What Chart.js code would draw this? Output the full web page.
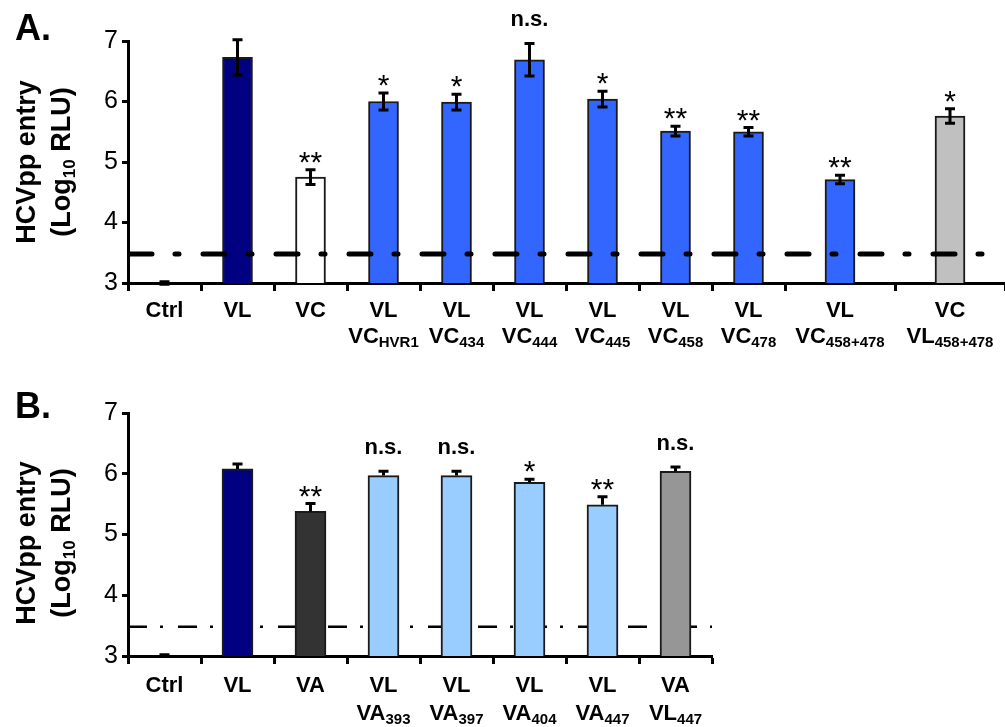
<!DOCTYPE html>
<html>
<head>
<meta charset="utf-8">
<script src="https://cdn.jsdelivr.net/npm/chart.js@4/dist/chart.umd.min.js"></script>
<style>
  body { margin: 0; background: #fff; }
  #wrap { position: relative; width: 1005px; height: 727px; }
  canvas { position: absolute; left: 0; }
  #chartA { top: 0; }
  #chartB { top: 355px; }
</style>
</head>
<body>
<div id="wrap">
  <canvas id="chartA" width="1005" height="355"></canvas>
  <canvas id="chartB" width="1005" height="372"></canvas>
</div>
<script>
// ---- data, panel A ----
const topLineA = ['Ctrl', 'VL', 'VC', 'VL', 'VL', 'VL', 'VL', 'VL', 'VL', 'VL', 'VC'];
const mainLineA = ['', '', '', 'VC', 'VC', 'VC', 'VC', 'VC', 'VC', 'VC', 'VL'];
const subLineA = ['', '', '', 'HVR1', '434', '444', '445', '458', '478', '458+478', '458+478'];
const valuesA = [3.0, 6.73, 4.75, 6.00, 5.99, 6.69, 6.04, 5.51, 5.50, 4.71, 5.76];
const errorsA = [0.02, 0.29, 0.12, 0.14, 0.13, 0.27, 0.13, 0.08, 0.07, 0.07, 0.12];
const signifA = ['', '', '**', '*', '*', 'n.s.', '*', '**', '**', '**', '*'];

// ---- data, panel B ----
const topLineB = ['Ctrl', 'VL', 'VA', 'VL', 'VL', 'VL', 'VL', 'VA'];
const mainLineB = ['', '', '', 'VA', 'VA', 'VA', 'VA', 'VL'];
const subLineB = ['', '', '', '393', '397', '404', '447', '447'];
const valuesB = [3.0, 6.08, 5.38, 5.97, 5.97, 5.86, 5.49, 6.04];
const errorsB = [0.02, 0.08, 0.13, 0.07, 0.07, 0.05, 0.13, 0.07];
const signifB = ['', '', '**', 'n.s.', 'n.s.', '*', '**', 'n.s.'];

const yTicks = [3, 4, 5, 6, 7];
const cutoffLevel = 3.48;   // detection limit (dashed line)

const colorsA = ['#ffffff', '#000080', '#ffffff', '#3366ff', '#3366ff', '#3366ff', '#3366ff',
                 '#3366ff', '#3366ff', '#3366ff', '#c0c0c0'];
const colorsB = ['#ffffff', '#000080', '#333333', '#99ccff', '#99ccff', '#99ccff', '#99ccff', '#969696'];

const FONT = "'Liberation Sans', Arial, sans-serif";
Chart.defaults.font.family = FONT;

// text with an optional subscript, centred on x
function drawSubText(ctx, x, y, main, sub, mainSize, subSize, subDrop) {
    ctx.font = 'bold ' + mainSize + 'px ' + FONT;
    const w1 = ctx.measureText(main).width;
    ctx.font = 'bold ' + subSize + 'px ' + FONT;
    const w2 = sub ? ctx.measureText(sub).width : 0;
    const x0 = x - (w1 + w2) / 2;
    ctx.textAlign = 'left';
    ctx.font = 'bold ' + mainSize + 'px ' + FONT;
    ctx.fillText(main, x0, y);
    if (sub) {
        ctx.font = 'bold ' + subSize + 'px ' + FONT;
        ctx.fillText(sub, x0 + w1, y + subDrop);
    }
}

function makeChart(id, cfg) {
    const H = document.getElementById(id).height;
    const n = cfg.values.length;
    const split = cfg.split || n;     // categories on the first x axis
    const labels = cfg.top.map((t, i) => (t + ' ' + cfg.main[i] + cfg.sub[i]).trim());

    function barX(chart, i) {
        return i < split ? chart.getDatasetMeta(0).data[i].x
                         : chart.getDatasetMeta(1).data[i - split].x;
    }

    function drawCutoff(chart) {
        const ctx = chart.ctx;
        const yy = chart.scales.y.getPixelForValue(cutoffLevel);
        ctx.save();
        ctx.strokeStyle = '#000';
        ctx.lineWidth = cfg.dashWidth;
        ctx.lineCap = cfg.dashCap;
        ctx.setLineDash(cfg.dash);
        ctx.lineDashOffset = cfg.dashOffset;
        ctx.beginPath();
        ctx.moveTo(chart.chartArea.left, yy);
        ctx.lineTo(chart.chartArea.right, yy);
        ctx.stroke();
        ctx.restore();
    }

    const panelPlugin = {
        id: 'panel',
        afterLayout(chart) {
            // second category axis takes the wider slots at the right end
            if (split < n) {
                const xs = chart.scales.x, x2 = chart.scales.x2;
                xs.right = cfg.splitPx;
                xs.width = xs.right - xs.left;
                xs.configure();
                x2.left = cfg.splitPx;
                x2.right = chart.chartArea.right;
                x2.width = x2.right - x2.left;
                x2.top = xs.top;
                x2.bottom = xs.bottom;
                x2.height = xs.height;
                x2.configure();
            }
        },
        beforeDatasetsDraw(chart) {
            if (!cfg.cutoffOnTop) drawCutoff(chart);
        },
        afterDatasetsDraw(chart) {
            if (cfg.cutoffOnTop) drawCutoff(chart);
            const ctx = chart.ctx;
            const y = chart.scales.y;
            ctx.save();
            ctx.strokeStyle = '#000';
            ctx.fillStyle = '#000';
            ctx.lineWidth = 3;
            for (let i = 0; i < n; i++) {
                const bx = barX(chart, i);
                const v = cfg.values[i], e = cfg.errors[i];
                const yTop = y.getPixelForValue(v + e);
                const yLow = cfg.symmetric ? y.getPixelForValue(v - e) : y.getPixelForValue(v);
                ctx.beginPath();
                ctx.moveTo(bx, yLow);
                ctx.lineTo(bx, yTop);
                ctx.moveTo(bx - 5, yTop);
                ctx.lineTo(bx + 5, yTop);
                if (cfg.symmetric) {
                    ctx.moveTo(bx - 5, yLow);
                    ctx.lineTo(bx + 5, yLow);
                }
                ctx.stroke();

                const s = cfg.signif[i];
                if (!s) continue;
                ctx.textAlign = 'center';
                ctx.textBaseline = 'alphabetic';
                if (s === 'n.s.') {
                    ctx.font = 'bold 22px ' + FONT;
                    ctx.fillText(s, bx, yTop - 17);
                } else {
                    ctx.font = '30px ' + FONT;
                    ctx.fillText(s, bx, yTop + 2);
                }
            }
            ctx.restore();
        },
        afterDraw(chart) {
            const ctx = chart.ctx;
            const area = chart.chartArea;
            ctx.save();
            ctx.fillStyle = '#000';
            ctx.textBaseline = 'alphabetic';

            // two-line category labels
            for (let i = 0; i < n; i++) {
                const cx = barX(chart, i);
                drawSubText(ctx, cx, area.bottom + cfg.lab1, cfg.top[i], '', 22, 15, 0);
                if (cfg.main[i]) {
                    drawSubText(ctx, cx, area.bottom + cfg.lab2, cfg.main[i], cfg.sub[i], 22, 15, 4);
                }
            }

            // rotated y title, two lines
            ctx.save();
            ctx.translate(35, cfg.titleY);
            ctx.rotate(-Math.PI / 2);
            ctx.textAlign = 'center';
            ctx.font = 'bold 27px ' + FONT;
            ctx.fillText('HCVpp entry', 0, 0);
            ctx.restore();

            ctx.save();
            ctx.translate(70, cfg.titleY);
            ctx.rotate(-Math.PI / 2);
            ctx.textAlign = 'left';
            const p1 = '(Log', p2 = '10', p3 = ' RLU)';
            ctx.font = 'bold 27px ' + FONT;
            const w1 = ctx.measureText(p1).width;
            const w3 = ctx.measureText(p3).width;
            ctx.font = 'bold 17px ' + FONT;
            const w2 = ctx.measureText(p2).width;
            const sx = -(w1 + w2 + w3) / 2;
            ctx.font = 'bold 27px ' + FONT;
            ctx.fillText(p1, sx, 0);
            ctx.fillText(p3, sx + w1 + w2, 0);
            ctx.font = 'bold 17px ' + FONT;
            ctx.fillText(p2, sx + w1, 5);
            ctx.restore();

            // panel letter
            ctx.font = 'bold 36px ' + FONT;
            ctx.textAlign = 'left';
            ctx.fillText(cfg.letter, 15, cfg.letterY);
            ctx.restore();
        }
    };

    const xGrid = { display: true, drawOnChartArea: false, offset: true,
                    tickLength: 8, tickWidth: 3, tickColor: '#000' };
    const xBorder = { display: true, color: '#000', width: 3 };

    const scales = {
        x: {
            type: 'category',
            labels: labels.slice(0, split),
            offset: true,
            afterFit: s => { s.height = H - cfg.bottom; },
            ticks: { display: false },
            grid: xGrid,
            border: xBorder
        },
        y: {
            min: yTicks[0],
            max: yTicks[yTicks.length - 1],
            afterFit: s => { s.width = 128; },
            afterBuildTicks: s => { s.ticks = yTicks.map(v => ({ value: v })); },
            ticks: { color: '#000', font: { size: 25 }, padding: 4 },
            grid: { display: true, drawOnChartArea: false,
                    tickLength: 6, tickWidth: 3, tickColor: '#000' },
            border: { display: true, color: '#000', width: 3 }
        }
    };

    const datasets = [{
        data: cfg.values.slice(0, split),
        backgroundColor: cfg.colors.slice(0, split),
        borderColor: '#1a1a1a',
        borderWidth: 2,
        barThickness: cfg.barWidth,
        grouped: false,
        xAxisID: 'x'
    }];

    if (split < n) {
        scales.x2 = {
            type: 'category',
            position: 'bottom',
            labels: labels.slice(split),
            offset: true,
            afterFit: s => { s.height = 0; },
            ticks: { display: false },
            grid: xGrid,
            border: xBorder
        };
        datasets.push({
            data: cfg.values.slice(split),
            backgroundColor: cfg.colors.slice(split),
            borderColor: '#1a1a1a',
            borderWidth: 2,
            barThickness: cfg.barWidth,
            grouped: false,
            xAxisID: 'x2'
        });
    }

    return new Chart(document.getElementById(id), {
        type: 'bar',
        data: { labels: labels, datasets: datasets },
        options: {
            responsive: false,
            animation: false,
            devicePixelRatio: 1,
            layout: { padding: { top: cfg.top0, right: cfg.padRight, left: 0, bottom: 0 } },
            plugins: { legend: { display: false }, tooltip: { enabled: false } },
            scales: scales
        },
        plugins: [panelPlugin]
    });
}

makeChart('chartA', {
    top: topLineA, main: mainLineA, sub: subLineA,
    values: valuesA, errors: errorsA, signif: signifA, colors: colorsA,
    split: 9, splitPx: 785,
    symmetric: true, barWidth: 30,
    top0: 41, bottom: 283, padRight: 0,
    cutoffOnTop: true, dash: [22, 23, 4, 24], dashWidth: 5, dashCap: 'round', dashOffset: -2,
    lab1: 34, lab2: 60, titleY: 162, letter: 'A.', letterY: 40
});

makeChart('chartB', {
    top: topLineB, main: mainLineB, sub: subLineB,
    values: valuesB, errors: errorsB, signif: signifB, colors: colorsB,
    symmetric: false, barWidth: 31,
    top0: 58, bottom: 301, padRight: 293,
    cutoffOnTop: false, dash: [19, 13, 3, 15], dashWidth: 2.5, dashCap: 'butt', dashOffset: 0,
    lab1: 36, lab2: 64, titleY: 188, letter: 'B.', letterY: 63
});
</script>
</body>
</html>
